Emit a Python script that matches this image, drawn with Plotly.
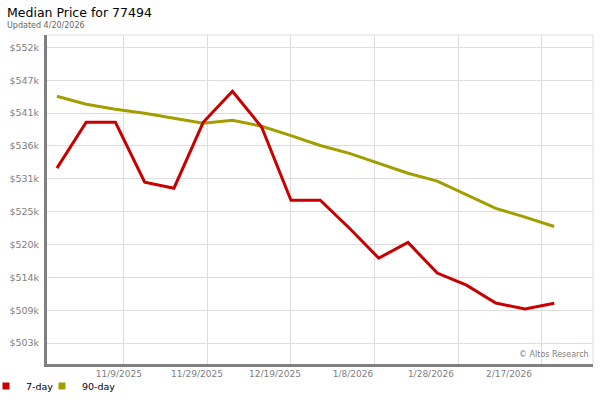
import plotly.graph_objects as go

# ---- data ----
dates = ["2025-10-24", "2025-10-31", "2025-11-07", "2025-11-14", "2025-11-21",
         "2025-11-28", "2025-12-05", "2025-12-12", "2025-12-19", "2025-12-26",
         "2026-01-02", "2026-01-09", "2026-01-16", "2026-01-23", "2026-01-30",
         "2026-02-06", "2026-02-13", "2026-02-20"]
price_7day = [532250, 539850, 539850, 529930, 528940, 539850, 544980, 539030,
              526950, 526950, 522300, 517360, 519950, 514880, 512890, 509920,
              508930, 509900]
price_90day = [544160, 542830, 542000, 541340, 540500, 539690, 540190, 539190,
               537650, 536000, 534700, 533000, 531420, 530100, 527800, 525600,
               524140, 522600]

y_tickvals = [503300, 508740, 514180, 519620, 525060, 530500, 535940, 541380, 546820, 552260]
y_ticktext = ["$503k", "$509k", "$514k", "$520k", "$525k", "$531k", "$536k", "$541k", "$547k", "$552k"]

x_gridvals = ["2025-11-09", "2025-11-29", "2025-12-19", "2026-01-08", "2026-01-28", "2026-02-17"]
x_labelvals = ["2025-11-07 20:00", "2025-11-26 12:00", "2025-12-15 04:00",
               "2026-01-02 20:00", "2026-01-21 12:00", "2026-02-09 04:00"]
x_ticktext = ["11/9/2025", "11/29/2025", "12/19/2025", "1/8/2026", "1/28/2026", "2/17/2026"]

x_range = ["2025-10-21 15:00", "2026-03-01 06:30"]
y_range = [499830, 554300]

RED = "#c80000"
OLIVE = "#a39e00"
FONT = "DejaVu Sans"

# plot area in pixels (for placing header/legend in paper units)
L, R, T, B = 47, 593, 35, 364
def px_x(p):
    return (p - L) / (R - L)
def px_y(p):
    return (B - p) / (B - T)

fig = go.Figure()
fig.add_trace(go.Scatter(x=dates, y=price_90day, mode="lines", name="90-day",
                         line=dict(color=OLIVE, width=3), showlegend=False))
fig.add_trace(go.Scatter(x=dates, y=price_7day, mode="lines", name="7-day",
                         line=dict(color=RED, width=3), showlegend=False))
# legend entries (square swatches), one legend box each for tight placement
fig.add_trace(go.Scatter(x=[None], y=[None], mode="markers", name="7-day",
                         marker=dict(symbol="square", color=RED, size=7),
                         legend="legend"))
fig.add_trace(go.Scatter(x=[None], y=[None], mode="markers", name="90-day",
                         marker=dict(symbol="square", color=OLIVE, size=7),
                         legend="legend2"))
# invisible trace carrying the label axis
fig.add_trace(go.Scatter(x=[x_range[0]], y=[None], xaxis="x2", mode="markers",
                         showlegend=False, hoverinfo="skip"))

legend_common = dict(orientation="h", xref="paper", yref="paper",
                     xanchor="left", yanchor="middle",
                     font=dict(family=FONT, size=9.5, color="#000000"),
                     itemwidth=30, bgcolor="rgba(0,0,0,0)")

fig.update_layout(
    width=600, height=400,
    margin=dict(l=L, r=600 - R, t=T, b=400 - B, autoexpand=False),
    paper_bgcolor="white", plot_bgcolor="white",
    font=dict(family=FONT, size=9, color="#808080"),
    xaxis=dict(type="date", range=x_range, tickvals=x_gridvals, showticklabels=False,
               showgrid=True, gridcolor="#dddddd", gridwidth=1, automargin=False,
               showline=True, linecolor="#808080", linewidth=3, zeroline=False),
    xaxis2=dict(type="date", range=x_range, overlaying="x", side="bottom",
                tickvals=x_labelvals, ticktext=x_ticktext, showgrid=False,
                showline=False, zeroline=False, ticks="", automargin=False,
                ticklabelstandoff=3,
                tickfont=dict(family=FONT, size=9, color="#808080")),
    yaxis=dict(range=y_range, tickvals=y_tickvals, ticktext=y_ticktext,
               showgrid=True, gridcolor="#dddddd", gridwidth=1, automargin=False,
               showline=True, linecolor="#808080", linewidth=3, zeroline=False,
               ticks="", ticklabelstandoff=3,
               tickfont=dict(family=FONT, size=9.5, color="#808080")),
    legend=dict(legend_common, x=px_x(-14), y=px_y(386)),
    legend2=dict(legend_common, x=px_x(42), y=px_y(386)),
    shapes=[
        dict(type="line", xref="paper", yref="paper", x0=0, x1=1, y0=1, y1=1,
             line=dict(color="#dddddd", width=1)),
        dict(type="line", xref="paper", yref="paper", x0=1, x1=1, y0=0, y1=1,
             line=dict(color="#dddddd", width=1)),
    ],
    annotations=[
        dict(text="Median Price for 77494", xref="paper", yref="paper",
             x=px_x(5), y=px_y(13), xanchor="left", yanchor="middle",
             showarrow=False, font=dict(family=FONT, size=12.5, color="#000000")),
        dict(text="Updated 4/20/2026", xref="paper", yref="paper",
             x=px_x(5), y=px_y(25), xanchor="left", yanchor="middle",
             showarrow=False, font=dict(family=FONT, size=8, color="#666666")),
        dict(text="© Altos Research", xref="paper", yref="paper",
             x=px_x(591), y=px_y(354), xanchor="right", yanchor="middle",
             showarrow=False, font=dict(family=FONT, size=8, color="#808080")),
    ],
)

fig.write_html("out.html", config={"displayModeBar": False},
               post_script="document.body.style.margin='0px';")
